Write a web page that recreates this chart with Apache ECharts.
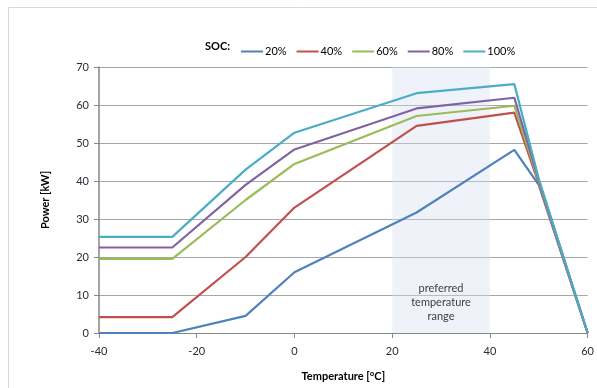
<!DOCTYPE html>
<html>
<head>
<meta charset="utf-8">
<script src="https://cdn.jsdelivr.net/npm/echarts@6/dist/echarts.min.js"></script>
<style>
  html, body { margin: 0; padding: 0; background: #fff; }
  #main { width: 597px; height: 388px; }
</style>
</head>
<body>
<div id="main"></div>
<script>
// temperatures (°C) at which the curves were sampled
var temps = [-40, -25, -10, 0, 25, 45, 50, 60];
var soc20 = [0, 0, 4.5, 16, 31.7, 48.2, 39, 0];
var soc40 = [4.2, 4.2, 20, 33, 54.5, 58, 39.3, 0];
var soc60 = [19.5, 19.5, 35, 44.5, 57.1, 59.8, 39.8, 0];
var soc80 = [22.5, 22.5, 39, 48.3, 59.1, 61.9, 40.2, 0];
var soc100 = [25.3, 25.3, 43, 52.7, 63.1, 65.5, 40.6, 0];
var socNames = ['20%', '40%', '60%', '80%', '100%'];
var preferredRange = [20, 40];

var colors = ['#4f81bd', '#c0504d', '#9bbb59', '#8064a2', '#4bacc6'];
var allSeries = [soc20, soc40, soc60, soc80, soc100];

function pairs(arr) {
    var out = [];
    for (var i = 0; i < temps.length; i++) {
        out.push([temps[i], arr[i]]);
    }
    return out;
}

var series = [];
for (var i = 0; i < allSeries.length; i++) {
    series.push({
        name: socNames[i],
        type: 'line',
        data: pairs(allSeries[i]),
        showSymbol: false,
        lineStyle: { color: colors[i], width: 2.2 },
        itemStyle: { color: colors[i] },
        z: 3
    });
}
// shaded band, drawn over the lines like in the original
series.push({
    name: 'range',
    type: 'line',
    data: [],
    z: 5,
    markArea: {
        silent: true,
        itemStyle: { color: 'rgba(212,223,240,0.38)' },
        label: {
            show: true,
            position: 'insideBottom',
            distance: 10,
            color: '#404040',
            fontFamily: 'Lato',
            fontSize: 11,
            lineHeight: 14
        },
        data: [[{ name: 'preferred\ntemperature\nrange', xAxis: preferredRange[0] }, { xAxis: preferredRange[1] }]]
    }
});

var myChart = echarts.init(document.getElementById('main'));
var option = {
    animation: false,
    textStyle: { fontFamily: 'Lato' },
    graphic: [
        {
            type: 'rect',
            shape: { x: 8.5, y: 7.5, width: 620, height: 420 },
            style: { fill: 'none', stroke: '#d9d9d9', lineWidth: 1 }
        },
        {
            type: 'text',
            left: 205,
            top: 41,
            style: { text: 'SOC:', font: 'bold 11px Lato', fill: '#000' }
        }
    ],
    legend: {
        data: socNames,
        left: 236,
        top: 41,
        icon: 'rect',
        itemWidth: 22,
        itemHeight: 2,
        itemGap: 10,
        textStyle: { fontSize: 11, color: '#000', padding: [0, 0, 0, -3] }
    },
    grid: {
        left: 99,
        right: 6,
        top: 67,
        bottom: 55
    },
    xAxis: {
        type: 'value',
        min: -40,
        max: 60,
        interval: 20,
        name: 'Temperature [°C]',
        nameLocation: 'middle',
        nameGap: 38,
        nameTextStyle: { fontWeight: 'bold', fontSize: 11, color: '#000' },
        axisLine: { show: true, lineStyle: { color: '#868686' } },
        axisTick: { show: true, length: 5, inside: false, lineStyle: { color: '#868686' } },
        axisLabel: { color: '#2b2b3b', fontSize: 11, margin: 13 },
        splitLine: { show: false }
    },
    yAxis: {
        type: 'value',
        min: 0,
        max: 70,
        interval: 10,
        name: 'Power [kW]',
        nameLocation: 'middle',
        nameGap: 48,
        nameRotate: 90,
        nameTextStyle: { fontWeight: 'bold', fontSize: 11, color: '#000' },
        axisLine: { show: true, onZero: false, lineStyle: { color: '#868686', width: 1.5 } },
        axisTick: { show: true, length: 5, lineStyle: { color: '#868686' } },
        axisLabel: { color: '#2b2b3b', fontSize: 11, margin: 10 },
        splitLine: { show: true, lineStyle: { color: '#a6a6a6' } }
    },
    series: series
};
myChart.setOption(option);
</script>
</body>
</html>
